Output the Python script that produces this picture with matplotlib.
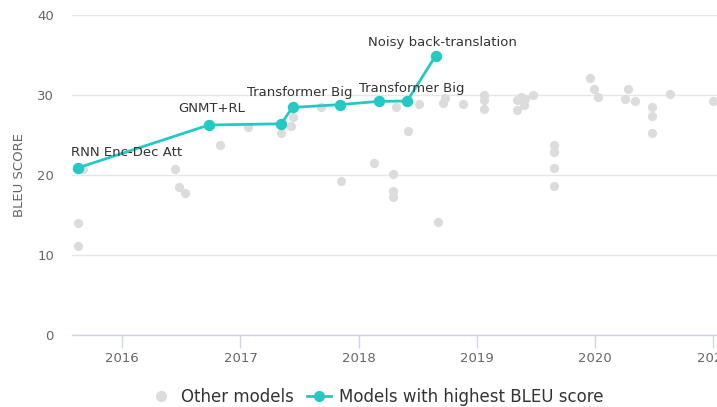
import matplotlib
matplotlib.use("Agg")
import matplotlib.pyplot as plt
from matplotlib.lines import Line2D

# Best models (teal line)
best_x = [2015.627, 2016.732, 2017.344, 2017.44, 2017.843, 2018.168, 2018.41, 2018.65]
best_y = [20.9, 26.25, 26.4, 28.45, 28.8, 29.2, 29.25, 34.9]
best_labels = ["RNN Enc-Dec Att", "GNMT+RL", "", "Transformer Big", "", "", "Transformer Big", "Noisy back-translation"]

# Other models (gray points)
other_x = [2015.669, 2015.627, 2015.627, 2016.45, 2016.48, 2016.53, 2016.83, 2017.065,
           2017.344, 2017.44, 2017.43, 2017.68, 2017.846, 2018.126, 2018.29, 2018.29,
           2018.29, 2018.314, 2018.42, 2018.51, 2018.67, 2018.71, 2018.73, 2018.88,
           2019.06, 2019.06, 2019.06, 2019.34, 2019.34, 2019.37, 2019.40, 2019.41,
           2019.47, 2019.65, 2019.65, 2019.65, 2019.65, 2019.96, 2019.99, 2020.02,
           2020.25, 2020.28, 2020.34, 2020.48, 2020.48, 2020.48, 2020.63, 2021.0]
other_y = [20.7, 13.96, 11.16, 20.75, 18.46, 17.8, 23.7, 26.0,
           25.2, 27.2, 26.1, 28.45, 19.2, 21.5, 20.1, 17.96,
           17.2, 28.45, 25.5, 28.9, 14.1, 29.04, 29.6, 28.9,
           30.0, 29.4, 28.3, 28.1, 29.4, 29.8, 28.7, 29.5,
           30.0, 23.7, 22.9, 20.9, 18.6, 32.1, 30.75, 29.8,
           29.5, 30.75, 29.2, 28.45, 27.4, 25.2, 30.1, 29.25]

yticks = [0, 10, 20, 30, 40]
xticks = [2016, 2017, 2018, 2019, 2020, 2021]

TEAL = "#25c9c4"
GRAY = "#dcdcdc"

fig = plt.figure(figsize=(7.17, 4.07), dpi=100)
ax = fig.add_axes([72/717, 1-335/407, 1-72/717, (335-15)/407])

ax.scatter(other_x, other_y, s=44, color=GRAY, zorder=2, linewidths=0)
ax.plot(best_x, best_y, color=TEAL, lw=2, marker="o", markersize=7.2, zorder=3)

label_offsets = {0: (-5, 6, "left"), 1: (2, 7, "center"), 3: (5, 6, "center"),
                 6: (3, 4, "center"), 7: (5, 5, "center")}
for i, lab in enumerate(best_labels):
    if not lab:
        continue
    dx, dy, ha = label_offsets.get(i, (0, 10, "center"))
    ax.annotate(lab, (best_x[i], best_y[i]), xytext=(dx, dy), textcoords="offset points",
                ha=ha, va="bottom", fontsize=9.5, color="#333333", zorder=4)

ax.set_xlim(2015.575, 2021.03)
ax.set_ylim(0, 40)
ax.set_yticks(yticks)
ax.set_xticks(xticks)
ax.set_xticklabels([str(t) for t in xticks])
ax.grid(axis="y", color="#e6e6e6", lw=1)
ax.set_axisbelow(True)
for s in ["top", "right", "left"]:
    ax.spines[s].set_visible(False)
ax.spines["bottom"].set_color("#ccd6eb")
ax.spines["bottom"].set_linewidth(1)
ax.tick_params(axis="x", colors="#ccd6eb", length=9, width=1, labelcolor="#666666", labelsize=9.5, pad=3)
ax.tick_params(axis="y", length=0, labelcolor="#666666", labelsize=9.5, pad=13)
ax.set_ylabel("BLEU SCORE", color="#666666", fontsize=9.5, labelpad=8)

handles = [Line2D([], [], marker="o", color=GRAY, lw=0, markersize=7),
           Line2D([], [], marker="o", color=TEAL, lw=2, markersize=7)]
fig.legend(handles, ["Other models", "Models with highest BLEU score"], loc="center",
           bbox_to_anchor=(0.525, 1-397/407), ncol=2, frameon=False, fontsize=12,
           labelcolor="#333333", handlelength=1.4, columnspacing=0.8, handletextpad=0.5)

fig.savefig("out.png", dpi=100)
